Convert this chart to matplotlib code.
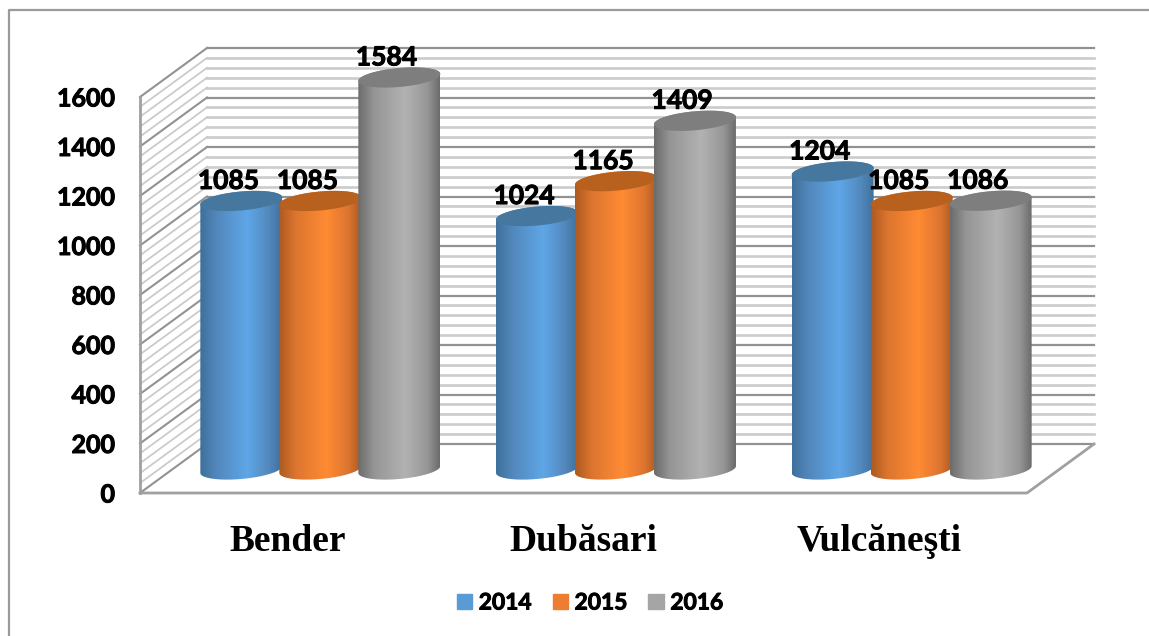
import numpy as np
import matplotlib
matplotlib.use('Agg')
import matplotlib.pyplot as plt
import matplotlib.patheffects as pe
from matplotlib.colors import LinearSegmentedColormap
from matplotlib.lines import Line2D
from matplotlib.patches import Patch
from matplotlib.path import Path

categories = ['Bender', 'Dubăsari', 'Vulcăneşti']
years = ['2014', '2015', '2016']
values_2014 = [1085, 1024, 1204]
values_2015 = [1085, 1165, 1085]
values_2016 = [1584, 1409, 1086]
y_ticks = [0, 200, 400, 600, 800, 1000, 1200, 1400, 1600]

W, H = 1149, 636
LEFT, RIGHT, BOTTOM, TOP = 140, 1027, 493, 97

# pixels per data unit on the front plane of the box
px_x = (RIGHT - LEFT) / 3
px_y = (BOTTOM - TOP) / 1600
depth_x = 67 / px_x
depth_y = 49 / px_y
bar_dx = 32.5 / px_x
bar_dy = 23.5 / px_y
step = 79 / px_x
half_w = 41 / px_x
ell_b = 9.5 / px_y
tilt = 3.5 / px_y

legend_colors = ['#5B9BD5', '#ED7D31', '#A5A5A5']
edge_colors = ['#3f709c', '#ac5a20', '#6c6c6c']
mid_colors = ['#5288bb', '#dc7530', '#969696']
light_colors = ['#5fa6e8', '#ff8b33', '#b2b2b2']
top_colors = ['#46779f', '#b8611f', '#7e7e7e']

# Lato here renders light, a thin stroke brings it up to the bold of the original
heavy = [pe.withStroke(linewidth=0.7, foreground='black')]

fig = plt.figure(figsize=(W / 100, H / 100), dpi=100)
ax = fig.add_axes([LEFT / W, 1 - BOTTOM / H, (RIGHT - LEFT) / W, (BOTTOM - TOP) / H])
ax.set_xlim(0, 3)
ax.set_ylim(0, 1600)
ax.set_autoscale_on(False)
for s in ax.spines.values():
    s.set_visible(False)
ax.patch.set_visible(False)

# back wall and side wall, gridline every 40 units
for v in np.arange(0, 1601, 40):
    major = v % 200 == 0
    col = '#929292' if major else '#cbcbcb'
    lw = 1.6 if major else 1.9
    ax.plot([depth_x, 3 + depth_x], [v + depth_y, v + depth_y], color=col, lw=lw, clip_on=False, zorder=1)
    ax.plot([0, depth_x], [v, v + depth_y], color=col, lw=1.5 if major else 1.3, clip_on=False, zorder=1)

# front edges of the box
box = dict(color='#a0a0a0', lw=2, clip_on=False, zorder=2, solid_capstyle='projecting')
ax.plot([0, 0], [0, 1600], **box)
ax.plot([0, 3, 3 + depth_x], [0, 0, depth_y], **box)

t = np.linspace(0, 2 * np.pi, 200)
t_low = np.linspace(np.pi, 0, 100)
t_up = np.linspace(0, np.pi, 100)

series = [values_2014, values_2015, values_2016]
z = 3
for i in range(len(categories)):
    for j, vals in enumerate(series):
        cx = i + 0.5 + bar_dx + (j - 1) * step
        top = vals[i] + bar_dy
        # cylinder outline: lower arc of the base, upper arc of the top
        xs = np.r_[cx + half_w * np.cos(t_low), cx + half_w * np.cos(t_up)]
        ys = np.r_[bar_dy - ell_b * np.sin(t_low) + tilt * np.cos(t_low),
                   top + ell_b * np.sin(t_up) + tilt * np.cos(t_up)]
        cmap = LinearSegmentedColormap.from_list(
            'c', [(0, edge_colors[j]), (0.2, mid_colors[j]), (0.58, light_colors[j]),
                  (0.85, mid_colors[j]), (1, edge_colors[j])])
        im = ax.imshow(np.linspace(0, 1, 200).reshape(1, -1), cmap=cmap, aspect='auto',
                       extent=[cx - half_w, cx + half_w, 0, top + ell_b + tilt], zorder=z)
        im.set_clip_box(fig.bbox)
        im.set_clip_path(Path(np.column_stack([xs, ys])), ax.transData)
        ax.fill(cx + half_w * np.cos(t), top + ell_b * np.sin(t) + tilt * np.cos(t),
                color=top_colors[j], lw=0, clip_on=False, zorder=z + 0.5)
        ax.annotate(str(vals[i]), (cx, top), xytext=(-13 * 0.72, 20 * 0.72), textcoords='offset points',
                    ha='center', va='center', fontsize=19, fontweight='bold', family='Lato',
                    color='black', zorder=100, annotation_clip=False, path_effects=heavy)
        z += 1

ax.set_yticks(y_ticks)
ax.set_yticklabels([str(v) for v in y_ticks], fontsize=18, fontweight='bold', family='Lato',
                   path_effects=heavy)
ax.tick_params(axis='y', length=0, pad=18)
ax.set_xticks([0.5, 1.5, 2.5])
ax.set_xticklabels(categories, fontsize=27, fontweight='bold', family='Liberation Serif')
ax.tick_params(axis='x', length=0, pad=22)

handles = [Patch(color=c, label=y) for c, y in zip(legend_colors, years)]
leg = fig.legend(handles=handles, ncol=3, loc='center', bbox_to_anchor=(590 / W, 1 - 603 / H),
                 frameon=False, handlelength=0.66, handleheight=0.66, handletextpad=0.3, columnspacing=0.93,
                 prop={'family': 'Lato', 'weight': 'bold', 'size': 16.4})
for txt in leg.get_texts():
    txt.set_path_effects(heavy)

# thin frame of the chart area, open at right and bottom
fig.add_artist(Line2D([9 / W, 9 / W, 1], [0, 1 - 9.5 / H, 1 - 9.5 / H], color='#9a9a9a', lw=1.6))

fig.savefig('out.png', dpi=100)
